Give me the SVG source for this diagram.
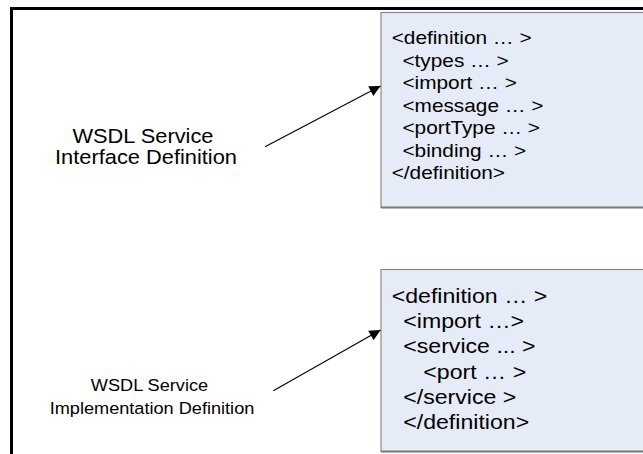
<svg xmlns="http://www.w3.org/2000/svg" width="643" height="454" viewBox="0 0 643 454">
<defs>
<marker id="ah" viewBox="0 0 10 10" refX="10" refY="5" markerWidth="18" markerHeight="11" markerUnits="userSpaceOnUse" orient="auto">
<path d="M0,0 L10,5 L0,10 Z" fill="#000"/>
</marker>
<style>
.t{font-family:"Liberation Sans",Arial,sans-serif;fill:#000;}
.box{fill:#e6ecf7;stroke:#8a8a8a;stroke-width:1.2;}
.shadow{stroke:#7a7a7a;stroke-width:2;}
.conn{stroke:#000;stroke-width:1.1;fill:none;marker-end:url(#ah);}
</style>
</defs>
<rect x="0" y="0" width="643" height="454" fill="#fff"/>
<g id="frame">
<path d="M11.5,460 L11.5,8.5 L650,8.5" fill="none" stroke="#000" stroke-width="3"/>
</g>
<g id="interface-box">
<rect class="box" x="381" y="12.5" width="280" height="195"/>
<line class="shadow" x1="381" y1="207.5" x2="643" y2="207.5"/>
<g transform="translate(391.7,0) scale(1.156,1)">
<text class="t" font-size="18">
<tspan x="0" y="44.5">&lt;definition … &gt;</tspan>
<tspan x="9.3" y="67">&lt;types … &gt;</tspan>
<tspan x="9.3" y="89.5">&lt;import … &gt;</tspan>
<tspan x="9.3" y="112">&lt;message … &gt;</tspan>
<tspan x="9.3" y="134.5">&lt;portType … &gt;</tspan>
<tspan x="9.3" y="157">&lt;binding … &gt;</tspan>
<tspan x="0" y="179.5">&lt;/definition&gt;</tspan>
</text>
</g>
</g>
<g id="implementation-box">
<rect class="box" x="381" y="269.5" width="280" height="182"/>
<line class="shadow" x1="381" y1="451.5" x2="643" y2="451.5"/>
<g transform="translate(391.7,0) scale(1.156,1)">
<text class="t" font-size="20">
<tspan x="0" y="302.7">&lt;definition … &gt;</tspan>
<tspan x="10" y="328">&lt;import …&gt;</tspan>
<tspan x="10" y="353.3">&lt;service ... &gt;</tspan>
<tspan x="27.4" y="378.7">&lt;port … &gt;</tspan>
<tspan x="10" y="404">&lt;/service &gt;</tspan>
<tspan x="10" y="429.3">&lt;/definition&gt;</tspan>
</text>
</g>
</g>
<g id="interface-label">
<g transform="translate(146,0) scale(1.12,1)">
<text class="t" font-size="19.5" text-anchor="middle">
<tspan x="0" y="143">WSDL Service</tspan>
<tspan x="0" y="164">Interface Definition</tspan>
</text>
</g>
</g>
<g id="implementation-label">
<g transform="translate(152,0) scale(1.1,1)">
<text class="t" font-size="16.5" text-anchor="middle">
<tspan x="0" y="391">WSDL Service</tspan>
<tspan x="0" y="414">Implementation Definition</tspan>
</text>
</g>
</g>
<g id="connectors">
<line class="conn" x1="265" y1="146.7" x2="380.5" y2="86"/>
<line class="conn" x1="273.3" y1="390.7" x2="380.5" y2="330"/>
</g>
</svg>
